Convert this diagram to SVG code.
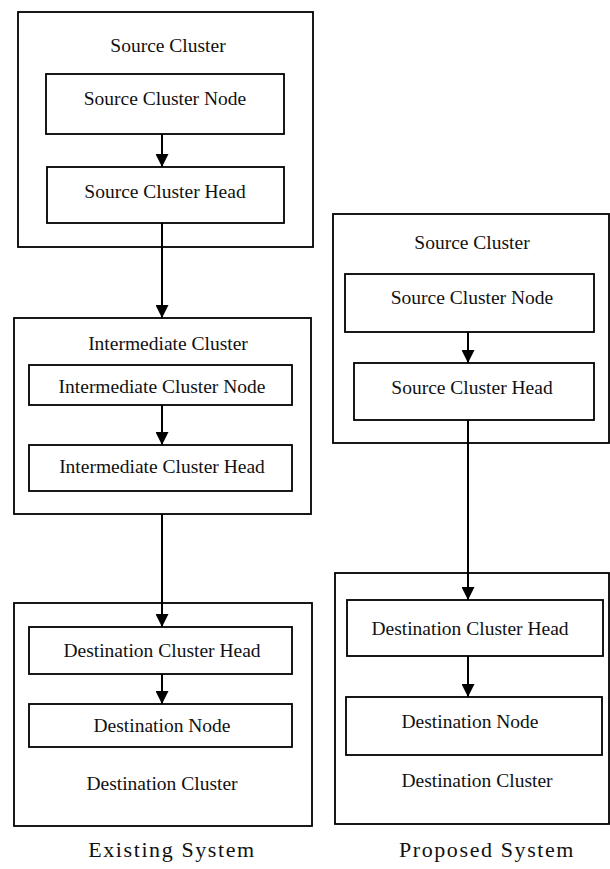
<svg xmlns="http://www.w3.org/2000/svg" width="610" height="869" viewBox="0 0 610 869">
  <style>
    .box { fill: #fff; stroke: #000; stroke-width: 1.8; }
    .lbl { font-family: "Liberation Serif", "Times New Roman", serif; font-size: 19.5px; fill: #111; text-anchor: middle; }
    .cap { font-family: "Liberation Serif", "Times New Roman", serif; font-size: 22px; fill: #111; text-anchor: middle; letter-spacing: 1.6px; }
    .edge { stroke: #000; stroke-width: 2; fill: none; }
  </style>
  <defs>
    <marker id="arrow" markerUnits="userSpaceOnUse" markerWidth="13" markerHeight="13" refX="13" refY="6.5" orient="auto">
      <path d="M0,0 L13,6.5 L0,13 z" fill="#000"/>
    </marker>
  </defs>
  <rect width="610" height="869" fill="#fff"/>

  <!-- Existing System -->
  <g id="ex-source-cluster">
    <rect class="box" x="18" y="12" width="295" height="235"/>
    <text class="lbl" x="168" y="52">Source Cluster</text>
  </g>
  <g id="ex-source-node">
    <rect class="box" x="46" y="74" width="238" height="60"/>
    <text class="lbl" x="165" y="105">Source Cluster Node</text>
  </g>
  <g id="ex-source-head">
    <rect class="box" x="47" y="167" width="237" height="56"/>
    <text class="lbl" x="165" y="198">Source Cluster Head</text>
  </g>
  <g id="ex-inter-cluster">
    <rect class="box" x="14" y="318" width="297" height="196"/>
    <text class="lbl" x="168" y="350">Intermediate Cluster</text>
  </g>
  <g id="ex-inter-node">
    <rect class="box" x="29" y="365" width="263" height="40"/>
    <text class="lbl" x="162" y="393">Intermediate Cluster Node</text>
  </g>
  <g id="ex-inter-head">
    <rect class="box" x="29" y="445" width="263" height="46"/>
    <text class="lbl" x="162" y="473">Intermediate Cluster Head</text>
  </g>
  <g id="ex-dest-cluster">
    <rect class="box" x="14" y="603" width="298" height="223"/>
    <text class="lbl" x="162" y="790">Destination Cluster</text>
  </g>
  <g id="ex-dest-head">
    <rect class="box" x="29" y="627" width="263" height="47"/>
    <text class="lbl" x="162" y="657">Destination Cluster Head</text>
  </g>
  <g id="ex-dest-node">
    <rect class="box" x="29" y="704" width="263" height="43"/>
    <text class="lbl" x="162" y="732">Destination Node</text>
  </g>
  <text id="ex-caption" class="cap" x="172" y="857">Existing System</text>

  <!-- Proposed System -->
  <g id="pr-source-cluster">
    <rect class="box" x="333" y="214" width="276" height="229"/>
    <text class="lbl" x="472" y="249">Source Cluster</text>
  </g>
  <g id="pr-source-node">
    <rect class="box" x="345" y="274" width="249" height="58"/>
    <text class="lbl" x="472" y="304">Source Cluster Node</text>
  </g>
  <g id="pr-source-head">
    <rect class="box" x="354" y="363" width="240" height="57"/>
    <text class="lbl" x="472" y="394">Source Cluster Head</text>
  </g>
  <g id="pr-dest-cluster">
    <rect class="box" x="335" y="573" width="274" height="251"/>
    <text class="lbl" x="477" y="787">Destination Cluster</text>
  </g>
  <g id="pr-dest-head">
    <rect class="box" x="347" y="600" width="256" height="56"/>
    <text class="lbl" x="470" y="635">Destination Cluster Head</text>
  </g>
  <g id="pr-dest-node">
    <rect class="box" x="346" y="697" width="256" height="58"/>
    <text class="lbl" x="470" y="728">Destination Node</text>
  </g>
  <text id="pr-caption" class="cap" x="487" y="857">Proposed System</text>

  <g id="connectors">
    <line class="edge" x1="162" y1="134" x2="162" y2="167" marker-end="url(#arrow)"/>
    <line class="edge" x1="162" y1="223" x2="162" y2="318" marker-end="url(#arrow)"/>
    <line class="edge" x1="162" y1="405" x2="162" y2="445" marker-end="url(#arrow)"/>
    <line class="edge" x1="162" y1="514" x2="162" y2="627" marker-end="url(#arrow)"/>
    <line class="edge" x1="162" y1="674" x2="162" y2="704" marker-end="url(#arrow)"/>
    <line class="edge" x1="468" y1="332" x2="468" y2="363" marker-end="url(#arrow)"/>
    <line class="edge" x1="468" y1="420" x2="468" y2="600" marker-end="url(#arrow)"/>
    <line class="edge" x1="468" y1="656" x2="468" y2="697" marker-end="url(#arrow)"/>
  </g>
</svg>
